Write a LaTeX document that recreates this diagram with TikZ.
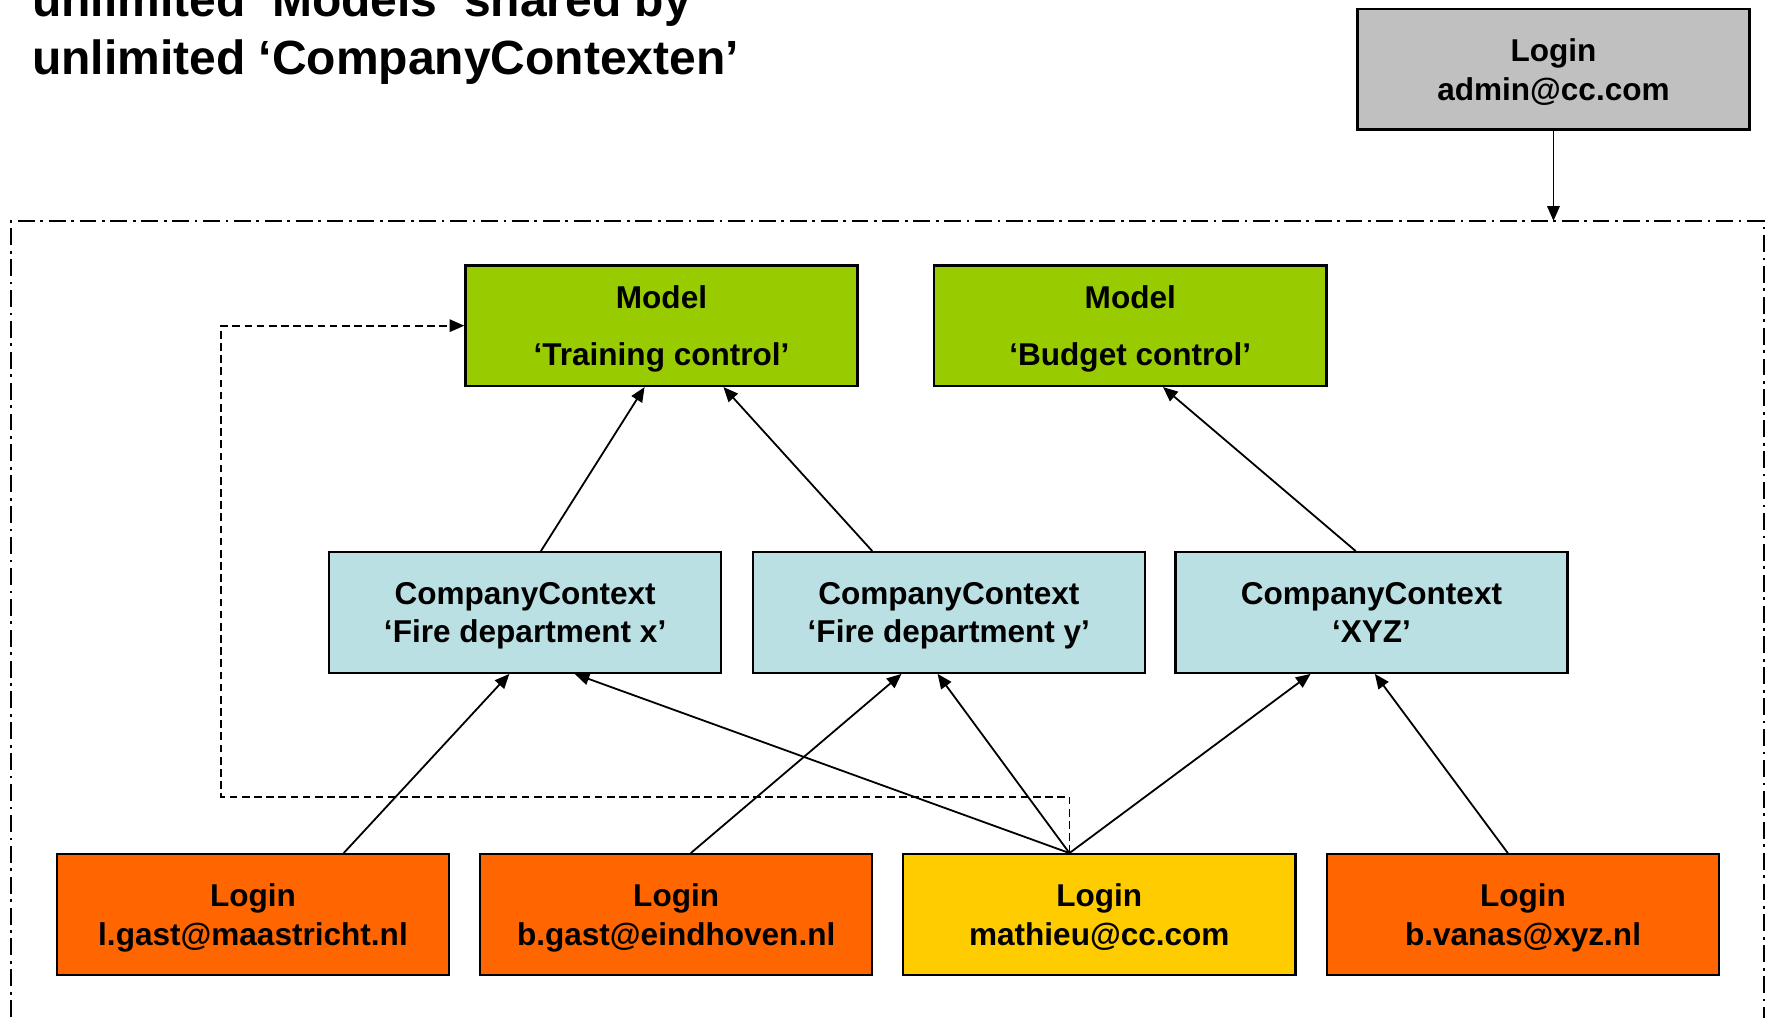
\documentclass[tikz,border=0pt]{standalone}
\usepackage{fontspec}
\setmainfont{Liberation Sans}
\usetikzlibrary{calc,arrows.meta}
\definecolor{modelgreen}{HTML}{99CC00}
\definecolor{ctxcyan}{HTML}{BBE0E3}
\definecolor{loginorange}{HTML}{FF6600}
\definecolor{loginyellow}{HTML}{FFCC00}
\definecolor{admingray}{HTML}{C0C0C0}
\tikzset{
  box/.style={draw=black, line width=1pt, minimum width=174pt, minimum height=53.5pt,
    inner sep=0pt, align=center, text depth=0pt, font=\fontsize{14}{17.3}\selectfont\bfseries},
  modelbox/.style={box, fill=modelgreen},
  ctxbox/.style={box, fill=ctxcyan},
  loginbox/.style={box, fill=loginorange},
  ownbox/.style={box, fill=loginyellow},
  adminbox/.style={box, fill=admingray},
  conn/.style={line width=0.8pt, -{Triangle[length=6.5pt,width=5.5pt]}},
  dashconn/.style={line width=0.8pt, dash pattern=on 3.4pt off 2pt, -{Triangle[length=6.5pt,width=5.5pt]}},
  frame/.style={line width=0.8pt, dash pattern=on 7.5pt off 2.5pt on 1.2pt off 2.5pt},
  titletext/.style={font=\fontsize{21.3}{25}\selectfont\bfseries, inner sep=0pt, anchor=base west}
}
\begin{document}
\begin{tikzpicture}[x=0.5pt,y=-0.5pt]
\useasboundingbox (0,0) rectangle (1568,903);

% title
\node[titletext] (title1) at (28,15) {unlimited ‘Models’ shared by};
\node[titletext] (title2) at (28,66) {unlimited ‘CompanyContexten’};

% frame
\draw[frame] (10,930) -- (10,196) -- (1565,196) -- (1565,930);
\coordinate (frametop) at (1378.5,196);

% admin
\node[adminbox] (admin) at (1378.5,61.5) {Login\\admin@cc.com};

% models
\node[modelbox] (tc) at (587,289) {Model\\[8.2pt]‘Training control’};
\node[modelbox] (bc) at (1003,289) {Model\\[8.2pt]‘Budget control’};

% contexts
\node[ctxbox] (ccx) at (466,543.5) {CompanyContext\\‘Fire department x’};
\node[ctxbox] (ccy) at (842,543.5) {CompanyContext\\‘Fire department y’};
\node[ctxbox] (ccz) at (1217,543.5) {CompanyContext\\‘XYZ’};

% logins
\node[loginbox] (l1) at (224.5,811.5) {Login\\l.gast@maastricht.nl};
\node[loginbox] (l2) at (600,811.5) {Login\\b.gast@eindhoven.nl};
\node[ownbox] (l3) at (975.5,811.5) {Login\\mathieu@cc.com};
\node[loginbox] (l4) at (1351.5,811.5) {Login\\b.vanas@xyz.nl};

% admin arrow
\draw[conn] (admin.south) -- (frametop);

% context -> model
\draw[conn] ($(ccx.north)+(14,0)$) -- ($(tc.south)+(-15,0)$);
\draw[conn] ($(ccy.north)+(-68,0)$) -- ($(tc.south)+(55,0)$);
\draw[conn] ($(ccz.north)+(-14,0)$) -- ($(bc.south)+(29,0)$);

% login -> context
\draw[conn] ($(l1.north)+(80.5,0)$) -- ($(ccx.south)+(-14,0)$);
\draw[conn] ($(l2.north)+(13,0)$) -- ($(ccy.south)+(-42,0)$);
\draw[conn] ($(l3.north)+(-26.5,0)$) -- ($(ccx.south)+(44,0)$);
\draw[conn] ($(l3.north)+(-26.5,0)$) -- ($(ccy.south)+(-10,0)$);
\draw[conn] ($(l3.north)+(-26.5,0)$) -- ($(ccz.south)+(-54,0)$);
\draw[conn] ($(l4.north)+(-13.5,0)$) -- ($(ccz.south)+(3,0)$);

% dashed link mathieu -> training control
\coordinate (d1) at (949,707);
\coordinate (d2) at (196,707);
\coordinate (d3) at (196,289);
\draw[dashconn] ($(l3.north)+(-26.5,0)$) -- (d1) -- (d2) -- (d3) -- (tc.west);
\end{tikzpicture}
\end{document}
